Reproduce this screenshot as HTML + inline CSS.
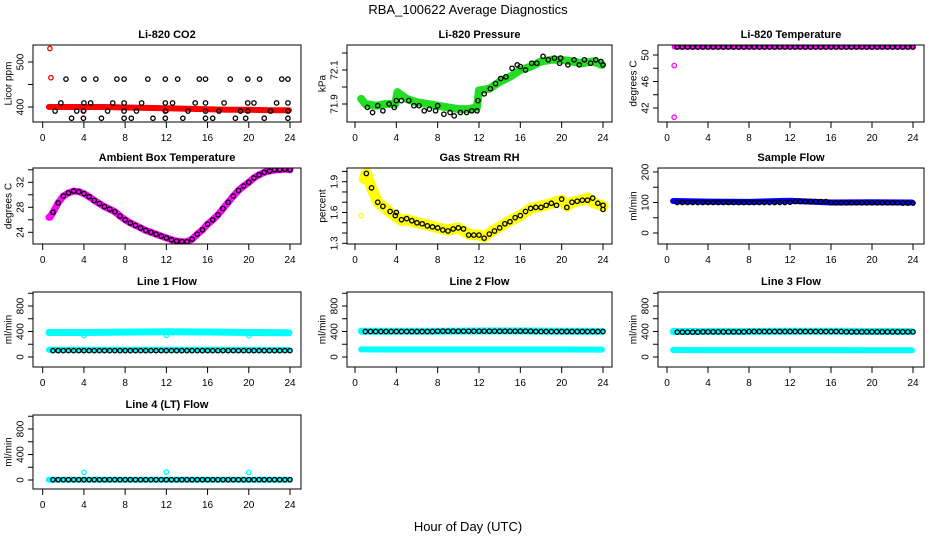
<!DOCTYPE html>
<html><head><meta charset="utf-8"><style>
html,body{margin:0;padding:0;background:#fff;}
svg{display:block;font-family:"Liberation Sans",Arial,sans-serif;}
</style></head><body>
<svg id="chart" width="936" height="540" viewBox="0 0 936 540" xmlns="http://www.w3.org/2000/svg">
<text x="468" y="14" text-anchor="middle" font-size="13">RBA_100622  Average Diagnostics</text>
<text x="468" y="531" text-anchor="middle" font-size="13">Hour of Day (UTC)</text>
</svg>
<script>
// ---- data ----
const xTickLabels = [0,4,8,12,16,20,24];
const hoursHalf = [1,1.5,2,2.5,3,3.5,4,4.5,5,5.5,6,6.5,7,7.5,8,8.5,9,9.5,10,10.5,11,11.5,12,12.5,13,13.5,14,14.5,15,15.5,16,16.5,17,17.5,18,18.5,19,19.5,20,20.5,21,21.5,22,22.5,23,23.5,24];

// CO2
const co2RedHours = [0.6,2,4,6,8,10,12,14,16,18,20,22,23.9];
const co2RedVals = [400,400,400,400,399,398,397,396,395,394,394,393,393];
const co2RedOutHours = [0.7,0.8,4,12,20];
const co2RedOutVals = [530,465,392,392,392];
const co2BlkHours = [2.26,4.0,5.16,7.2,7.9,10.2,11.9,13.1,15.2,15.8,18.2,19.9,21.05,23.2,23.8,
  1.76,4.0,4.65,6.8,7.9,9.6,11.9,12.6,14.8,15.8,17.6,19.9,20.5,22.7,23.8,
  1.2,3.3,3.95,6.3,7.9,9.1,11.9,14.1,15.8,17.1,19.2,19.9,22.1,23.8,
  2.8,3.95,5.7,7.9,8.6,10.7,11.9,13.6,15.8,16.5,18.7,19.7,21.5,23.8];
const co2BlkVals = [462,462,462,462,462,462,462,462,462,462,462,462,462,462,462,
  409,409,409,409,409,409,409,409,409,409,409,409,409,409,409,
  391,391,391,391,391,391,391,391,391,391,391,391,391,391,
  375,375,375,375,375,375,375,375,375,375,375,375,375,375];

// Pressure
const presGreenHours = [0.6,1,2,3,3.9,4.1,5,6,7,8,9,10,11,11.8,12,13,14,15,16,17,18,19,20,21,22,23,23.9];
const presGreenVals = [71.93,71.9,71.89,71.9,71.9,71.97,71.93,71.91,71.9,71.89,71.88,71.87,71.87,71.88,71.98,71.99,72.03,72.06,72.1,72.12,72.15,72.16,72.16,72.15,72.14,72.15,72.13];
const presBlkHours = [1.2,1.7,2.2,2.7,3.3,3.8,4.0,4.5,5.2,5.7,6.2,6.7,7.2,7.8,8,8.6,9.2,9.6,10.2,10.8,11.3,11.8,11.9,12.5,13.1,13.6,14.1,14.6,15.2,15.7,16,16.5,17.1,17.6,18.2,18.7,19.3,19.8,19.9,20.6,21.2,21.7,22.2,22.8,23.3,23.8,24.0];
const presBlkVals = [71.88,71.85,71.89,71.86,71.9,71.88,71.92,71.92,71.92,71.89,71.89,71.86,71.87,71.86,71.89,71.84,71.85,71.83,71.85,71.85,71.86,71.86,71.92,71.96,71.99,72.02,72.05,72.06,72.11,72.13,72.12,72.10,72.14,72.14,72.18,72.16,72.17,72.14,72.17,72.13,72.16,72.13,72.16,72.14,72.16,72.15,72.13];

// Li-820 temperature
const ltempMagHours = [0.7,24];
const ltempMagVals = [51.2,51.2];
const ltempOutHours = [0.7,0.7];
const ltempOutVals = [48.4,40.6];
const ltempBlkVals = [51.2,51.2,51.2,51.2,51.2,51.2,51.2,51.2,51.2,51.2,51.2,51.2,51.2,51.2,51.2,51.2,51.2,51.2,51.2,51.2,51.2,51.2,51.2,51.2,51.2,51.2,51.2,51.2,51.2,51.2,51.2,51.2,51.2,51.2,51.2,51.2,51.2,51.2,51.2,51.2,51.2,51.2,51.2,51.2,51.2,51.2,51.2];

// Ambient box temperature
const ambMagHours = [0.6,0.7,1];
const ambMagVals = [26.4,26.4,27.2];
const ambBlkVals = [27.2,28.7,29.8,30.3,30.6,30.5,30.2,29.7,29.1,28.6,28.1,27.7,27.3,26.6,26.0,25.5,25.1,24.7,24.3,24.0,23.7,23.4,23.1,22.8,22.6,22.5,22.5,22.9,23.7,24.4,25.3,26.0,26.8,27.8,28.8,29.8,30.7,31.4,32.0,32.7,33.2,33.6,33.8,34.0,34.0,34.1,34.0];

// Gas stream RH
const rhYelHours = [0.9,1.1,1.6,2.2,2.7,3.4,4,4.5,5,6,7,8,9,10,11,12,12.5,13,14,15,16,17,18,19,20,20.5,21,22,22.5,23,24];
const rhYelVals = [1.93,1.98,1.84,1.70,1.66,1.60,1.56,1.52,1.53,1.50,1.48,1.45,1.43,1.45,1.39,1.38,1.36,1.40,1.46,1.52,1.57,1.64,1.66,1.69,1.72,1.66,1.70,1.72,1.74,1.70,1.66];
const rhYelOutHours = [0.6];
const rhYelOutVals = [1.57];
const rhBlkHours = [1.1,1.6,2.2,2.7,3.4,3.9,4,4.5,5,5.5,6,6.5,7,7.5,8,8.5,9,9.5,10,10.5,11,11.5,12,12.5,13,13.5,14,14.5,15,15.5,16,16.5,17,17.5,18,18.5,19,19.5,20,20.5,21,21.5,22,22.5,23,23.5,24,24];
const rhBlkVals = [1.98,1.84,1.70,1.66,1.61,1.57,1.60,1.53,1.54,1.52,1.50,1.49,1.47,1.46,1.45,1.43,1.42,1.44,1.45,1.44,1.38,1.38,1.38,1.35,1.39,1.42,1.45,1.49,1.51,1.55,1.57,1.61,1.64,1.65,1.65,1.67,1.69,1.67,1.73,1.65,1.70,1.71,1.72,1.72,1.74,1.69,1.67,1.63];

// Sample flow
const sfBlueHours = [0.6,4,8,12,16,20,23.9];
const sfBlueVals = [105,103,102,106,100,101,100];
const sfBlkVals = [100,100,100,100,100,100,100,100,100,100,100,100,100,100,100,100,100,100,100,100,100,100,101,103,103,103,103,103,103,103,100,99,99,99,99,99,99,99,99,99,99,99,99,99,98,98,98];

// Line flows
const flowBandHours = [0.6,4,8,12,16,20,23.9];
const l1CyanHi = [385,385,390,395,392,385,380];
const l1CyanLo = [115,115,115,115,115,112,110];
const l1BlkVals = [100,100,100,100,100,100,100,100,100,100,100,100,100,100,100,100,100,100,100,100,100,100,100,100,100,100,100,100,100,100,100,100,100,100,100,100,100,100,100,100,100,100,100,100,100,100,100];
const l2CyanHi = [405,405,405,408,408,405,402];
const l2CyanLo = [120,118,118,118,118,118,116];
const l2BlkVals = [400,400,400,400,400,400,400,400,400,400,400,400,400,400,405,405,405,405,405,405,405,405,405,405,405,405,405,405,405,405,405,405,405,400,400,400,400,400,400,400,400,400,400,400,400,400,400];
const l3CyanHi = [400,400,400,403,403,400,398];
const l3CyanLo = [110,108,108,108,108,106,105];
const l3BlkVals = [390,390,390,390,390,395,395,395,395,395,395,395,395,395,400,400,400,400,400,400,400,400,400,400,400,400,400,400,400,400,400,400,400,395,395,395,395,395,395,395,395,395,395,395,395,395,395];
const l4CyanLo = [5,5,5,5,5,5,5];
const flowOutHours = [4,12,20];
const l1OutVals = [335,340,335];
const l4OutVals = [120,125,120];
const l4BlkVals = [5,5,5,5,5,5,5,5,5,5,5,5,5,5,5,5,5,5,5,5,5,5,5,5,5,5,5,5,5,5,5,5,5,5,5,5,5,5,5,5,5,5,5,5,5,5,5];

// ---- layout ----
const svg = document.getElementById('chart');
const NS = 'http://www.w3.org/2000/svg';
const cols = [{L:33,R:301,h0:42.7,h24:290},{L:347,R:612,h0:355,h24:603},{L:658,R:924,h0:667,h24:913}];
const rows = [{T:45,B:122},{T:168,B:244},{T:292,B:367},{T:415,B:489}];

function mk(tag, attrs, parent){
  const e = document.createElementNS(NS, tag);
  for (const k in attrs) e.setAttribute(k, attrs[k]);
  (parent||svg).appendChild(e);
  return e;
}

function panel(name, c, r, title, ylab, v1, y1, v2, y2, ticks, labels){
  const col = cols[c], row = rows[r];
  const g = mk('g', {});
  
  
  const xs = h => col.h0 + (h/24)*(col.h24-col.h0);
  const ys = v => y1 + (v - v1)*(y2 - y1)/(v2 - v1);
  const t = mk('text', {x:(col.L+col.R)/2, y:row.T-7, 'text-anchor':'middle', 'font-size':11, 'font-weight':'bold'}, g);
  t.textContent = title;
  
  
  const yl = mk('text', {x:0, y:0, transform:`translate(${col.L-24},${(row.T+row.B)/2}) rotate(-90)`, 'text-anchor':'middle', 'dominant-baseline':'central', 'font-size':10}, g);
  yl.textContent = ylab;
  
  
  xTickLabels.forEach(h => {
    const x = xs(h);
    mk('line', {x1:x, x2:x, y1:row.B, y2:row.B+6, stroke:'#000', 'stroke-width':1}, g);
    const tl = mk('text', {x:x, y:row.B+19, 'text-anchor':'middle', 'font-size':10}, g);
    tl.textContent = h;
    
    
  });
  ticks.forEach(v => {
    const y = ys(v);
    mk('line', {x1:col.L-5, x2:col.L, y1:y, y2:y, stroke:'#000', 'stroke-width':1}, g);
  });
  labels.forEach(v => {
    const y = ys(v);
    const tl = mk('text', {x:0, y:0, transform:`translate(${col.L-12},${y}) rotate(-90)`, 'text-anchor':'middle', 'dominant-baseline':'central', 'font-size':10}, g);
    tl.textContent = v;
    
    
  });
  const clip = 'clip' + name;
  const cp = mk('clipPath', {id:clip}, g);
  mk('rect', {x:col.L, y:row.T, width:col.R-col.L, height:row.B-row.T}, cp);
  const plot = mk('g', {'clip-path':`url(#${clip})`}, g);
  const box = mk('rect', {x:col.L, y:row.T, width:col.R-col.L, height:row.B-row.T, fill:'none', stroke:'#000', 'stroke-width':1}, g);
  
  
  return {
    band(hours, vals, color, w, nm){
      const pts = hours.map((h,i) => xs(h).toFixed(1)+','+ys(vals[i]).toFixed(1)).join(' ');
      const pl = mk('polyline', {points:pts, fill:'none', stroke:color, 'stroke-width':w, 'stroke-linecap':'round', 'stroke-linejoin':'round'}, plot);
      
      
    },
    pts(hours, vals, color, nm){
      hours.forEach((h,i) => {
        const cc = mk('circle', {cx:xs(h), cy:ys(vals[i]), r:2.2, fill:'none', stroke:color, 'stroke-width':1.3}, plot);
        
        
      });
    }
  };
}

let p = panel('co2', 0, 0, 'Li-820 CO2', 'Licor ppm', 500, 62, 400, 107, [400,450,500], [400,500]);
p.band(co2RedHours, co2RedVals, '#ff0000', 6, 'co2-red-band');
p.pts(co2RedOutHours, co2RedOutVals, '#ff0000', 'co2-red-point');
p.pts(co2BlkHours, co2BlkVals, '#000', 'co2-black-point');

p = panel('pressure', 1, 0, 'Li-820 Pressure', 'kPa', 71.9, 104, 72.1, 70, [71.9,72.0,72.1,72.2], [71.9,72.1]);
p.band(presGreenHours, presGreenVals, '#22dd22', 8, 'pressure-green-band');
p.pts(presBlkHours, presBlkVals, '#000', 'pressure-black-point');

p = panel('licor-temp', 2, 0, 'Li-820 Temperature', 'degrees C', 50, 55, 42, 108, [42,44,46,48,50], [42,46,50]);
p.band(ltempMagHours, ltempMagVals, '#ff00ff', 5, 'licor-temp-magenta-band');
p.pts(ltempOutHours, ltempOutVals, '#ff00ff', 'licor-temp-magenta-point');
p.pts(hoursHalf, ltempBlkVals, '#000', 'licor-temp-black-point');

p = panel('ambient', 0, 1, 'Ambient Box Temperature', 'degrees C', 32, 182.3, 24, 232.3, [24,26,28,30,32,34], [24,28,32]);
p.band(ambMagHours.concat(hoursHalf), ambMagVals.concat(ambBlkVals), '#ff00ff', 7, 'ambient-magenta-band');
p.pts(hoursHalf, ambBlkVals, '#000', 'ambient-black-point');

p = panel('rh', 1, 1, 'Gas Stream RH', 'percent', 1.3, 243.3, 1.9, 181.7, [1.3,1.4,1.5,1.6,1.7,1.8,1.9,2.0], [1.3,1.6,1.9]);
p.band(rhYelHours, rhYelVals, '#ffff00', 11, 'rh-yellow-band');
p.pts(rhYelOutHours, rhYelOutVals, '#ffff00', 'rh-yellow-point');
p.pts(rhBlkHours, rhBlkVals, '#000', 'rh-black-point');

p = panel('sample-flow', 2, 1, 'Sample Flow', 'ml/min', 0, 233, 200, 172, [0,50,100,150,200], [0,100,200]);
p.band(sfBlueHours, sfBlueVals, '#0000ff', 6, 'sample-flow-blue-band');
p.pts(hoursHalf, sfBlkVals, '#000', 'sample-flow-black-point');

const fT = [0,200,400,600,800,1000], fL = [0,400,800];
p = panel('line1', 0, 2, 'Line 1 Flow', 'ml/min', 0, 357, 800, 306, fT, fL);
p.band(flowBandHours, l1CyanHi, '#00ffff', 7, 'line1-cyan-high-band');
p.band(flowBandHours, l1CyanLo, '#00ffff', 6, 'line1-cyan-low-band');
p.pts(flowOutHours, l1OutVals, '#00ffff', 'line1-cyan-point');
p.pts(hoursHalf, l1BlkVals, '#000', 'line1-black-point');

p = panel('line2', 1, 2, 'Line 2 Flow', 'ml/min', 0, 357, 800, 306, fT, fL);
p.band(flowBandHours, l2CyanHi, '#00ffff', 7, 'line2-cyan-high-band');
p.band(flowBandHours, l2CyanLo, '#00ffff', 6, 'line2-cyan-low-band');
p.pts(hoursHalf, l2BlkVals, '#000', 'line2-black-point');

p = panel('line3', 2, 2, 'Line 3 Flow', 'ml/min', 0, 357, 800, 306, fT, fL);
p.band(flowBandHours, l3CyanHi, '#00ffff', 7, 'line3-cyan-high-band');
p.band(flowBandHours, l3CyanLo, '#00ffff', 6, 'line3-cyan-low-band');
p.pts(hoursHalf, l3BlkVals, '#000', 'line3-black-point');

p = panel('line4', 0, 3, 'Line 4 (LT) Flow', 'ml/min', 0, 480, 800, 429, fT, fL);
p.band(flowBandHours, l4CyanLo, '#00ffff', 6, 'line4-cyan-band');
p.pts(flowOutHours, l4OutVals, '#00ffff', 'line4-cyan-point');
p.pts(hoursHalf, l4BlkVals, '#000', 'line4-black-point');
</script>
</body></html>
